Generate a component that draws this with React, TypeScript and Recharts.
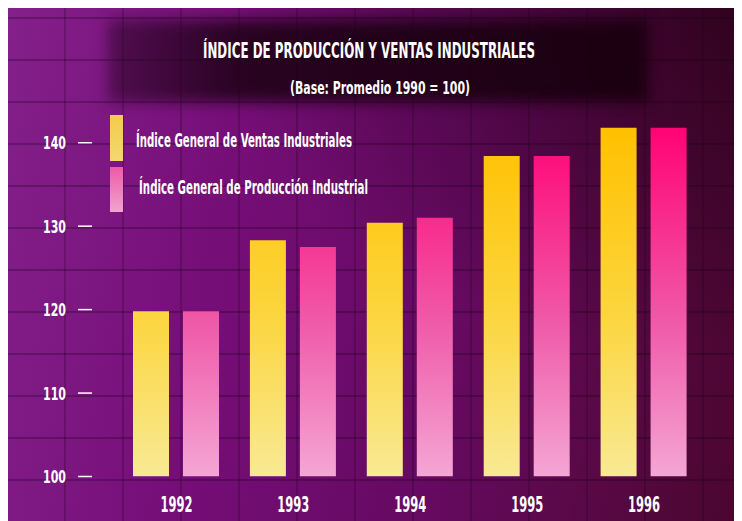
import React from 'react';
import { BarChart, Bar, XAxis, YAxis, Legend, Customized } from 'recharts';

const years = ['1992', '1993', '1994', '1995', '1996'];
const ventas = [119.8, 128.3, 130.4, 138.4, 141.8];
const produccion = [119.8, 127.5, 131.0, 138.4, 141.8];
const yTicks = [100, 110, 120, 130, 140];
const seriesNames = ['Índice General de Ventas Industriales', 'Índice General de Producción Industrial'];
const titleText = 'ÍNDICE DE PRODUCCIÓN Y VENTAS INDUSTRIALES';
const subtitleText = '(Base: Promedio 1990 = 100)';

const data = years.map((y, i) => ({ year: y, ventas: ventas[i], produccion: produccion[i] }));

const FONT = '"Liberation Sans Narrow", "DejaVu Sans Condensed", "Liberation Sans", sans-serif';
const W = 734;
const H = 513;

const YTick = (props: any) => {
  const { y, payload } = props;
  return (
    <g>
      <text x={58} y={y + 6.5} textAnchor="end" fill="#ffffff" fontFamily={FONT} fontWeight="bold" fontSize={18} textLength={23} lengthAdjust="spacingAndGlyphs">
        {payload.value}
      </text>
      <line x1={70} x2={84} y1={y} y2={y} stroke="#ffffff" strokeWidth={1.5} />
    </g>
  );
};

const XTick = (props: any) => {
  const { x, y, payload } = props;
  return (
    <text x={x} y={y + 27} textAnchor="middle" fill="#ffffff" fontFamily={FONT} fontWeight="bold" fontSize={22} textLength={32} lengthAdjust="spacingAndGlyphs">
      {payload.value}
    </text>
  );
};

const Titles = () => (
  <g>
    <text x={361} y={50} textAnchor="middle" fill="#ffffff" fontFamily={FONT} fontWeight="bold" fontSize={21} textLength={332} lengthAdjust="spacingAndGlyphs">
      {titleText}
    </text>
    <text x={372} y={86} textAnchor="middle" fill="#ffffff" fontFamily={FONT} fontWeight="bold" fontSize={17} textLength={180} lengthAdjust="spacingAndGlyphs">
      {subtitleText}
    </text>
  </g>
);

const LegendContent = () => (
  <svg width={420} height={110} style={{ display: 'block' }}>
    <defs>
      <linearGradient id="lgY" x1="0" y1="0" x2="0" y2="1">
        <stop offset="0%" stopColor="#f4cc4a" />
        <stop offset="100%" stopColor="#f2d870" />
      </linearGradient>
      <linearGradient id="lgP" x1="0" y1="0" x2="0" y2="1">
        <stop offset="0%" stopColor="#ee5aa8" />
        <stop offset="100%" stopColor="#f0a4d0" />
      </linearGradient>
    </defs>
    <rect x={0} y={0} width={13} height={46} fill="url(#lgY)" />
    <rect x={0} y={52} width={13} height={45} fill="url(#lgP)" />
    <text x={26} y={32} fill="#ffffff" fontFamily={FONT} fontWeight="bold" fontSize={19} textLength={216} lengthAdjust="spacingAndGlyphs">
      {seriesNames[0]}
    </text>
    <text x={29} y={79} fill="#ffffff" fontFamily={FONT} fontWeight="bold" fontSize={19} textLength={229} lengthAdjust="spacingAndGlyphs">
      {seriesNames[1]}
    </text>
  </svg>
);

export default function App() {
  return (
    <div
      style={{
        position: 'relative',
        width: W,
        height: H,
        overflow: 'hidden',
        background: 'linear-gradient(100deg, #84208a 0%, #760e78 30%, #660a62 60%, #560840 85%, #48062e 100%)',
      }}
    >
      <div
        style={{
          position: 'absolute',
          inset: 0,
          background:
            'repeating-linear-gradient(0deg, rgba(20,0,20,0) 0px, rgba(20,0,20,0) 40px, rgba(20,0,20,0.28) 40px, rgba(20,0,20,0.28) 42px), repeating-linear-gradient(90deg, rgba(20,0,20,0) 0px, rgba(20,0,20,0) 56px, rgba(20,0,20,0.22) 56px, rgba(20,0,20,0.22) 58px)',
        }}
      />
      <div
        style={{
          position: 'absolute',
          inset: 0,
          background: 'radial-gradient(ellipse at 100% 0%, rgba(30,0,15,0.65) 0%, rgba(30,0,15,0) 50%)',
        }}
      />
      <div
        style={{
          position: 'absolute',
          left: 100,
          top: 12,
          width: 540,
          height: 82,
          background: 'linear-gradient(90deg, rgba(40,4,34,0.5) 0%, rgba(32,2,24,0.9) 25%, rgba(26,0,16,0.97) 100%)',
          filter: 'blur(7px)',
        }}
      />
      <div style={{ position: 'absolute', left: 0, top: 0 }}>
        <BarChart
          width={W}
          height={H}
          data={data}
          margin={{ top: 93, right: 39.5, bottom: 0, left: 0 }}
          barSize={36}
          barGap={14}
        >
          <defs>
            <linearGradient id="gradY" gradientUnits="userSpaceOnUse" x1="0" y1="468" x2="0" y2="120">
              <stop offset="0%" stopColor="#f8ea94" />
              <stop offset="45%" stopColor="#fbd640" />
              <stop offset="100%" stopColor="#ffc000" />
            </linearGradient>
            <linearGradient id="gradP" gradientUnits="userSpaceOnUse" x1="0" y1="468" x2="0" y2="120">
              <stop offset="0%" stopColor="#f4a6d4" />
              <stop offset="45%" stopColor="#f058a8" />
              <stop offset="100%" stopColor="#ff0474" />
            </linearGradient>
          </defs>
          <XAxis dataKey="year" height={44.5} axisLine={false} tickLine={false} tick={<XTick />} interval={0} />
          <YAxis width={110} domain={[100, 145]} ticks={yTicks} axisLine={false} tickLine={false} tick={<YTick />} allowDataOverflow />
          <Legend
            layout="horizontal"
            verticalAlign="middle"
            align="center"
            content={<LegendContent />}
            wrapperStyle={{ position: 'absolute', left: 102, top: 107, width: 420, height: 110 }}
          />
          <Bar dataKey="ventas" name={seriesNames[0]} fill="url(#gradY)" isAnimationActive={false} />
          <Bar dataKey="produccion" name={seriesNames[1]} fill="url(#gradP)" isAnimationActive={false} />
          <Customized component={Titles} />
        </BarChart>
      </div>
    </div>
  );
}
